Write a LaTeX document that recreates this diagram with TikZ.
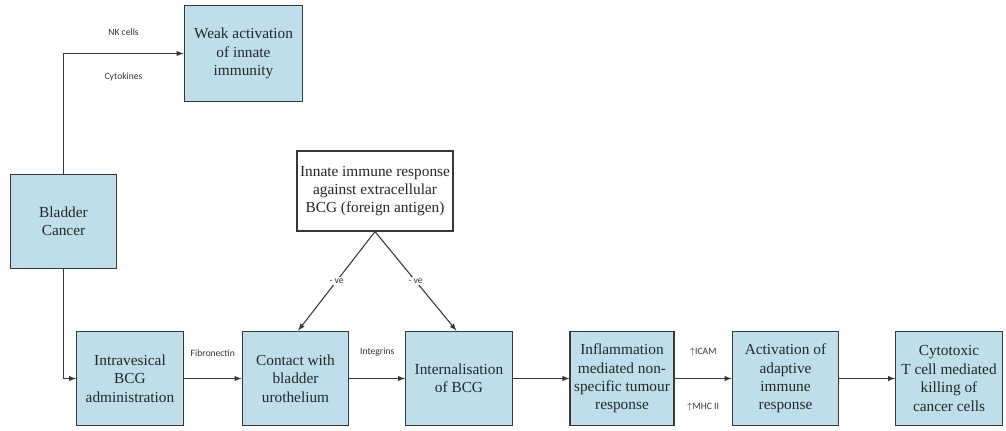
\documentclass[tikz,border=0pt]{standalone}
\usepackage{fontspec}
\setmainfont{Liberation Serif}
\newfontfamily\boxfont{Liberation Serif}
\newfontfamily\lblfont{Carlito}
\usepackage{tikz}
\usetikzlibrary{arrows}

\definecolor{boxblue}{RGB}{190,223,233}
\definecolor{edgegray}{RGB}{55,55,55}

\tikzset{
  stage/.style={draw=edgegray, line width=0.9pt, fill=boxblue, align=center,
    inner sep=1pt, minimum width=80pt, minimum height=71pt,
    font=\boxfont\fontsize{11.5}{13.8}\selectfont, text=black!85},
  cue/.style={font=\lblfont\fontsize{7.2}{8.5}\selectfont, text=black!80},
  arr/.style={-latex, draw=edgegray, line width=0.8pt}
}

\begin{document}
\begin{tikzpicture}[x=0.75pt, y=-0.75pt]
		\useasboundingbox (0,0) rectangle (1006,430);

		% top branch and left column
		\node[stage, minimum width=89pt, minimum height=72pt] (weak) at (243.5,53.5) {Weak activation\\of  innate\\immunity};
		\node[stage] (bladder) at (63.5,221.5) {Bladder\\Cancer};
		\node[stage, fill=white, minimum width=117pt, minimum height=60pt] (innate) at (375,191)
			{Innate immune response\\against extracellular\\BCG (foreign antigen)};

		% main row
		\node[stage] (intra) at (130,378.5) {Intravesical\\BCG\\administration};
		\node[stage] (contact) at (295.5,378.5) {Contact with\\bladder\\urothelium};
		\node[stage] (intern) at (459,378.5) {Internalisation\\of BCG};
		\node[stage, minimum width=78pt] (inflam) at (622,378.5) {Inflammation\\mediated non-\\specific tumour\\response};
		\node[stage] (activ) at (785.5,378.5) {Activation of\\adaptive\\immune\\response};
		\node[stage] (cyto) at (949,378.5) {Cytotoxic\\T cell mediated\\killing of\\cancer cells};

		\draw[arr] (bladder.north) |- node[cue, pos=0.75, above=10pt] {NK cells}
			node[cue, pos=0.75, below=11pt] {Cytokines} (weak.west);
		\draw[arr] (bladder.south) |- (intra.west);

		\draw[arr] (intra) -- node[cue, above=13pt] {Fibronectin} (contact);
		\draw[arr] (contact) -- node[cue, above=13pt] {Integrins} (intern);
		\draw[arr] (intern) -- (inflam);
		\draw[arr] (inflam) -- node[cue, above=13pt] {$\uparrow$ICAM}
			node[cue, below=15pt] {$\uparrow$MHC II} (activ);
		\draw[arr] (activ) -- (cyto);

		\draw[arr] (innate.south) -- node[cue, fill=white, inner sep=1pt] {- ve} ([xshift=2pt]contact.north);
		\draw[arr] (innate.south) -- node[cue, fill=white, inner sep=1pt] {- ve} ([xshift=-2pt]intern.north);
	\end{tikzpicture}
\end{document}
